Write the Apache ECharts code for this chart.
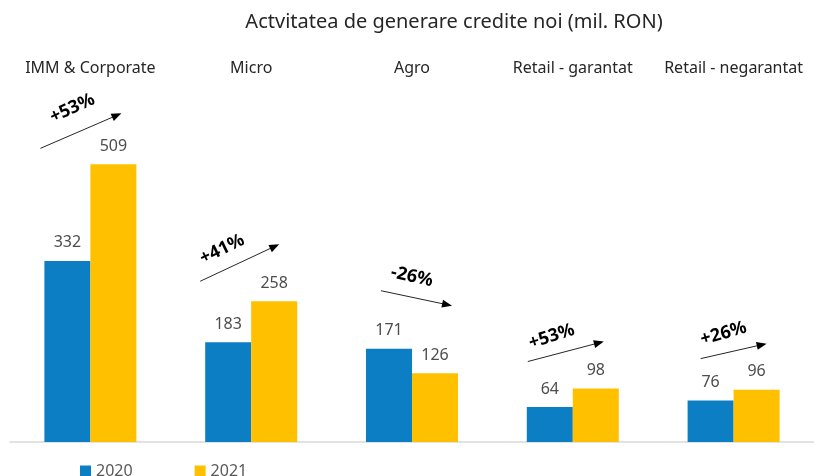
<!DOCTYPE html>
<html>
<head>
<meta charset="utf-8">
<script src="https://cdn.jsdelivr.net/npm/echarts@6/dist/echarts.min.js"></script>
<style>
html, body { margin: 0; padding: 0; background: #fff; }
#main { width: 814px; height: 476px; }
</style>
</head>
<body>
<div id="main"></div>
<script>
// date grafic
var categories = ['IMM & Corporate', 'Micro', 'Agro', 'Retail - garantat', 'Retail - negarantat'];
var years = ['2020', '2021'];
var values2020 = [332, 183, 171, 64, 76];
var values2021 = [509, 258, 126, 98, 96];
var changeLabels = ['+53%', '+41%', '-26%', '+53%', '+26%'];

var FONT = '"Noto Sans", sans-serif';
var myChart = echarts.init(document.getElementById('main'));

var option = {
    animation: false,
    title: {
        text: 'Actvitatea de generare credite noi (mil. RON)',
        left: 449,
        textAlign: 'center',
        top: 7,
        textStyle: {
            fontFamily: FONT,
            fontSize: 20,
            fontWeight: 'normal',
            color: '#262626'
        }
    },
    legend: {
        data: years,
        left: 75,
        top: 458,
        icon: 'rect',
        itemWidth: 11,
        itemHeight: 11,
        itemGap: 62,
        textStyle: {
            fontFamily: FONT,
            fontSize: 16,
            color: '#595959'
        }
    },
    grid: {
        left: 10,
        right: -1,
        top: 82,
        bottom: 34
    },
    xAxis: [
        {
            type: 'category',
            data: categories,
            position: 'bottom',
            axisLine: { lineStyle: { color: '#d9d9d9', width: 1.5 } },
            axisTick: { show: false },
            axisLabel: { show: false }
        },
        {
            type: 'category',
            data: categories,
            position: 'top',
            axisLine: { show: false },
            axisTick: { show: false },
            axisLabel: {
                interval: 0,
                margin: 6,
                fontFamily: FONT,
                fontSize: 16,
                color: '#262626'
            }
        }
    ],
    yAxis: {
        type: 'value',
        min: 0,
        max: 660,
        show: false
    },
    series: [
        {
            name: years[0],
            type: 'bar',
            data: values2020,
            barWidth: 46,
            barGap: '0%',
            itemStyle: { color: '#0B7EC4' },
            label: {
                show: true,
                position: 'top',
                distance: 10,
                fontFamily: FONT,
                fontSize: 16,
                color: '#4d4d4d'
            }
        },
        {
            name: years[1],
            type: 'bar',
            data: values2021,
            barWidth: 46,
            barGap: '0%',
            itemStyle: { color: '#FFC000' },
            label: {
                show: true,
                position: 'top',
                distance: 10,
                fontFamily: FONT,
                fontSize: 16,
                color: '#4d4d4d'
            }
        }
    ]
};
myChart.setOption(option);

// sageti + procente, pozitionate fata de centrul categoriei si bara mai inalta
// [x0, y0, x1, y1, textX, textY, unghi text]
var arrowLayout = [
    [-50, -16, 31, -51, -18, -56, 25],
    [-51, -20, 28, -57, -29, -52, 26],
    [-31, -58, 40, -43, 0, -72, -13],
    [-45, -27, 31, -47, -21, -52, 18],
    [-33, -31, 33, -46, -10, -56, 16]
];

var graphics = [];
categories.forEach(function (cat, i) {
    var cx = myChart.convertToPixel({ xAxisIndex: 0 }, cat);
    var top = myChart.convertToPixel({ yAxisIndex: 0 }, Math.max(values2020[i], values2021[i]));
    var l = arrowLayout[i];
    var x0 = cx + l[0], y0 = top + l[1], x1 = cx + l[2], y1 = top + l[3];
    var a = Math.atan2(y1 - y0, x1 - x0);
    var len = 10, w = 4;
    var bx = x1 - len * Math.cos(a), by = y1 - len * Math.sin(a);
    graphics.push({
        type: 'line',
        shape: { x1: x0, y1: y0, x2: bx + 2 * Math.cos(a), y2: by + 2 * Math.sin(a) },
        style: { stroke: '#262626', lineWidth: 1 }
    });
    graphics.push({
        type: 'polygon',
        shape: {
            points: [
                [x1, y1],
                [bx - w * Math.sin(a), by + w * Math.cos(a)],
                [bx + w * Math.sin(a), by - w * Math.cos(a)]
            ]
        },
        style: { fill: '#000' }
    });
    graphics.push({
        type: 'text',
        x: cx + l[4],
        y: top + l[5],
        rotation: l[6] * Math.PI / 180,
        style: {
            text: changeLabels[i],
            fill: '#000',
            font: 'bold 18px ' + FONT,
            align: 'center',
            verticalAlign: 'middle'
        }
    });
});
myChart.setOption({ graphic: graphics });
</script>
</body>
</html>
